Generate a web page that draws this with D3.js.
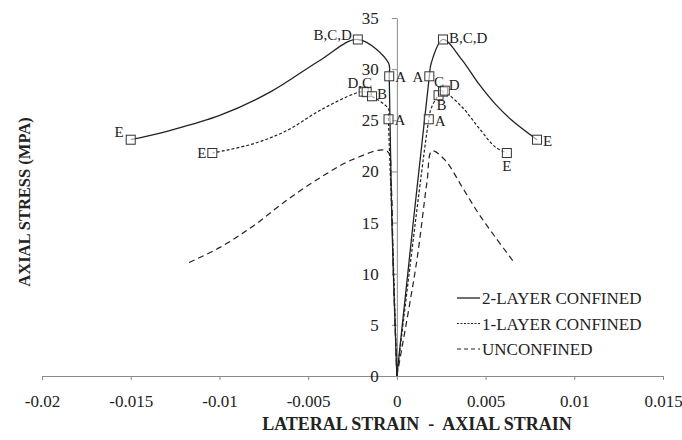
<!DOCTYPE html>
<html>
<head>
<meta charset="utf-8">
<script src="https://cdn.jsdelivr.net/npm/d3@7"></script>
<style>
  body { margin: 0; background: #fff; }
  svg { display: block; font-family: "Liberation Serif", "Times New Roman", serif; }
  .axis path, .axis line { stroke: #8a8a8a; }
  .axis text { font-size: 17px; fill: #222; }
</style>
</head>
<body>
<div id="chart"></div>
<script>
// stress-strain curves, [strain, stress MPa]; negative strain = lateral
var twoLayerLateral = [[0,0],[-0.00028,15],[-0.00043,29.3],[-0.00047,30.6],[-0.0022,32.9],[-0.0043,30.9],[-0.0071,27.8],[-0.00995,25.5],[-0.0128,24.0],[-0.015,23.1]];
var twoLayerAxial = [[0,0],[0.00183,29.3],[0.00194,30.6],[0.0026,32.9],[0.00367,30.9],[0.0046,28.6],[0.00554,26.6],[0.00648,25.0],[0.0079,23.1]];
var oneLayerLateral = [[0,0],[-0.00025,14],[-0.00047,25.1],[-0.00047,26.1],[-0.0014,27.35],[-0.00187,27.8],[-0.0024,27.6],[-0.0043,26.0],[-0.0062,24.0],[-0.0081,22.7],[-0.0104,21.8]];
var oneLayerAxial = [[0,0],[0.0018,25.1],[0.00194,26.2],[0.00235,27.45],[0.0026,27.8],[0.00367,26.3],[0.0046,24.3],[0.00554,22.4],[0.0062,21.8]];
var unconfinedLateral = [[0,0],[-0.0002,10],[-0.00033,19],[-0.00056,22.0],[-0.00244,21.2],[-0.00431,19.4],[-0.00619,17.2],[-0.00807,14.7],[-0.00994,12.6],[-0.0119,10.95]];
var unconfinedAxial = [[0,0],[0.0011,11],[0.0017,19],[0.00198,22.0],[0.00272,21.1],[0.00367,18.5],[0.0046,15.9],[0.00554,13.6],[0.00667,10.95]];

// marked points [strain, stress, label]
var twoLayerMarks = [[-0.015,23.1,"E"],[-0.0022,32.9,"B,C,D"],[-0.00043,29.3,"A"],[0.00183,29.3,"A"],[0.0026,32.9,"B,C,D"],[0.0079,23.1,"E"]];
var oneLayerMarks = [[-0.0104,21.8,"E"],[-0.00187,27.8,"D,C"],[-0.0017,27.75,""],[-0.0014,27.35,"B"],[-0.00047,25.1,"A"],[0.0018,25.1,"A"],[0.00235,27.45,"B"],[0.0026,27.8,"C"],[0.0027,27.9,"D"],[0.0062,21.8,"E"]];

var xTicks = [-0.02,-0.015,-0.01,-0.005,0,0.005,0.01,0.015];
var yTicks = [0,5,10,15,20,25,30,35];
var legendNames = ["2-LAYER CONFINED","1-LAYER CONFINED","UNCONFINED"];

var width = 682, height = 440;
var svg = d3.select("#chart").append("svg").attr("width", width).attr("height", height);

var x = d3.scaleLinear().domain([-0.02, 0.015]).range([42, 663]);
var y = d3.scaleLinear().domain([0, 35]).range([376, 18]);

var serif = "'Liberation Serif', 'Times New Roman', serif";

// axes
svg.append("g").attr("class", "axis")
    .attr("transform", "translate(0," + y(0) + ")")
    .call(d3.axisBottom(x).tickValues(xTicks).tickSize(4).tickSizeOuter(0).tickPadding(15)
        .tickFormat(function(d){ return d === 0 ? "0" : String(+d.toFixed(3)); }))
    .attr("font-family", serif).attr("font-size", 17);

svg.append("g").attr("class", "axis")
    .attr("transform", "translate(" + x(0) + ",0)")
    .call(d3.axisLeft(y).tickValues(yTicks).tickSize(5).tickSizeOuter(0).tickPadding(13))
    .attr("font-family", serif).attr("font-size", 17);

svg.selectAll(".axis .domain").attr("stroke", "#8a8a8a");

// curves
var line = d3.line()
    .x(function(d){ return x(d[0]); })
    .y(function(d){ return y(d[1]); })
    .curve(d3.curveCatmullRom.alpha(0.5));

var series = [
    {parts: [twoLayerLateral, twoLayerAxial], dash: null, w: 1.3},
    {parts: [oneLayerLateral, oneLayerAxial], dash: "3,2", w: 1.2},
    {parts: [unconfinedLateral, unconfinedAxial], dash: "6,4", w: 1.2}
];

series.forEach(function(s){
    s.parts.forEach(function(p){
        svg.append("path")
            .datum(p)
            .attr("d", line)
            .attr("fill", "none")
            .attr("stroke", "#222")
            .attr("stroke-width", s.w)
            .attr("stroke-dasharray", s.dash);
    });
});

// markers + letters; label offsets [dx, dy, anchor] follow the marks order
var twoLayerPlace = [[-7,-3,"end"],[-6,1,"end"],[6,6,"start"],[-6,6,"end"],[6,4,"start"],[6,6,"start"]];
var oneLayerPlace = [[-6,5,"end"],[-4,-4,"middle"],[0,0,"start"],[5,3,"start"],[6,6,"start"],[6,7,"start"],[3,15,"middle"],[-4,-5,"middle"],[4,-1,"start"],[0,18,"middle"]];

function drawMarks(marks, place){
    var g = svg.append("g");
    g.selectAll("rect").data(marks).enter().append("rect")
        .attr("x", function(d){ return x(d[0]) - 4.5; })
        .attr("y", function(d){ return y(d[1]) - 4.5; })
        .attr("width", 9).attr("height", 9)
        .attr("fill", "#fff").attr("fill-opacity", 0.6)
        .attr("stroke", "#333").attr("stroke-width", 1);
    g.selectAll("text").data(marks).enter().append("text")
        .attr("x", function(d, i){ return x(d[0]) + place[i][0]; })
        .attr("y", function(d, i){ return y(d[1]) + place[i][1]; })
        .attr("text-anchor", function(d, i){ return place[i][2]; })
        .style("font-size", "15px").attr("fill", "#222")
        .text(function(d){ return d[2]; });
}
drawMarks(twoLayerMarks, twoLayerPlace);
drawMarks(oneLayerMarks, oneLayerPlace);

// legend
var legend = svg.append("g").attr("transform", "translate(457,298)");
legendNames.forEach(function(name, i){
    var row = legend.append("g").attr("transform", "translate(0," + (i * 25.5) + ")");
    row.append("line").attr("x1", 0).attr("x2", 23).attr("y1", 0).attr("y2", 0)
        .attr("stroke", "#222").attr("stroke-width", series[i].w)
        .attr("stroke-dasharray", i === 0 ? null : (i === 1 ? "2,1.5" : "4,3"));
    row.append("text").attr("x", 25).attr("y", 6)
        .style("font-size", "17px").attr("fill", "#222").text(name);
});

// axis titles
svg.append("text")
    .attr("x", 417).attr("y", 430)
    .attr("text-anchor", "middle")
    .style("font-size", "18px").style("font-weight", "bold").attr("fill", "#222")
    .attr("xml:space", "preserve")
    .text("LATERAL STRAIN  -  AXIAL STRAIN");

svg.append("text")
    .attr("transform", "translate(30,202) rotate(-90)")
    .attr("text-anchor", "middle")
    .style("font-size", "16.5px").style("font-weight", "bold").attr("fill", "#222")
    .text("AXIAL STRESS (MPA)");
</script>
</body>
</html>
